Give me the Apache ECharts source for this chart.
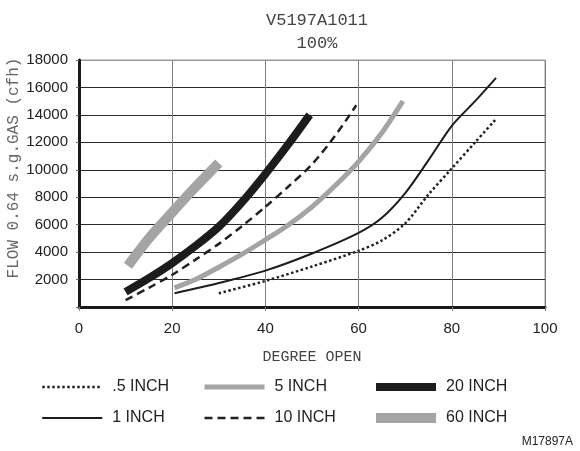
<!DOCTYPE html>
<html>
<head>
<meta charset="utf-8">
<script src="https://cdn.jsdelivr.net/npm/echarts@6/dist/echarts.min.js"></script>
<style>html,body{margin:0;padding:0;background:#fff}#c{width:580px;height:451px}</style>
</head>
<body>
<div id="c"></div>
<script>
const xTicks = [0, 20, 40, 60, 80, 100];
const yTicks = [2000, 4000, 6000, 8000, 10000, 12000, 14000, 16000, 18000];
const seriesNames = ['.5 INCH', '1 INCH', '5 INCH', '10 INCH', '20 INCH', '60 INCH'];
const halfInch = [[30,1000],[40,1900],[50,2950],[60,4100],[65,4850],[70,6100],[75,8200],[80,10100],[85,12000],[89.5,13700]];
const oneInch = [[20.5,1000],[30,1750],[40,2650],[50,3900],[60,5400],[65,6500],[70,8300],[75,10700],[80,13200],[85,15000],[89.5,16700]];
const fiveInch = [[20.5,1400],[25,2000],[30,2900],[35,3850],[40,4900],[45,6000],[50,7300],[55,8850],[60,10600],[65,12700],[69.5,15000]];
const tenInch = [[10,500],[15,1400],[20,2350],[25,3450],[30,4600],[35,5900],[40,7300],[45,8800],[50,10400],[55,12500],[59.5,14700]];
const twentyInch = [[10,1100],[15,2100],[20,3200],[25,4450],[30,5850],[35,7650],[40,9700],[45,11900],[49.5,14000]];
const sixtyInch = [[10.5,3000],[15,5000],[20,6900],[25,8750],[30,10500]];

const mono = "'Liberation Mono', 'DejaVu Sans Mono', monospace";
const sans = "'Liberation Sans', Arial, sans-serif";
const GRAY = '#a4a4a4';
const BLACK = '#1c1c1c';

const styles = {
  '.5 INCH': {color: '#222', width: 2.5, type: 'dotted'},
  '1 INCH': {color: BLACK, width: 2, type: 'solid'},
  '5 INCH': {color: GRAY, width: 5, type: 'solid'},
  '10 INCH': {color: '#222', width: 2.5, type: [8, 5]},
  '20 INCH': {color: BLACK, width: 8, type: 'solid'},
  '60 INCH': {color: GRAY, width: 10, type: 'solid'}
};
const dataMap = {
  '.5 INCH': halfInch, '1 INCH': oneInch, '5 INCH': fiveInch,
  '10 INCH': tenInch, '20 INCH': twentyInch, '60 INCH': sixtyInch
};

function mkLegend(names, left) {
  return {
    orient: 'vertical', left: left, top: 379, padding: 0,
    itemWidth: 60, itemHeight: 14, itemGap: 15,
    selectedMode: false,
    textStyle: {fontFamily: sans, fontSize: 16, color: '#222', padding: [0, 0, 0, 5]},
    data: names.map(n => ({
      name: n,
      itemStyle: {opacity: 0, borderWidth: 0},
      lineStyle: {width: styles[n].width, color: styles[n].color, type: styles[n].type}
    }))
  };
}

const chart = echarts.init(document.getElementById('c'), null, {renderer: 'canvas'});
const hColors = yTicks.map(() => '#2a2a2a');
hColors.unshift('#2a2a2a');
hColors[hColors.length - 1] = '#999';

chart.setOption({
  animation: false,
  title: {
    text: 'V5197A1011\n100%', left: 312, top: 4, textAlign: 'center',
    textStyle: {fontFamily: mono, fontSize: 17, fontWeight: 'normal', color: '#444', lineHeight: 23}
  },
  grid: {left: 79, right: 35, top: 60, bottom: 144, show: true, borderColor: '#999', borderWidth: 1},
  legend: [
    mkLegend(['.5 INCH', '1 INCH'], 41),
    mkLegend(['5 INCH', '10 INCH'], 202),
    mkLegend(['20 INCH', '60 INCH'], 371)
  ],
  xAxis: {
    type: 'value', min: 0, max: 100, interval: 20,
    name: 'DEGREE OPEN', nameLocation: 'middle', nameGap: 43,
    nameTextStyle: {fontFamily: mono, fontSize: 15, color: '#444'},
    axisLine: {show: true, onZero: false, lineStyle: {color: '#1a1a1a', width: 3}},
    axisTick: {show: true, length: 4, lineStyle: {color: '#888'}},
    axisLabel: {fontFamily: sans, fontSize: 15, color: '#222', margin: 14,
      formatter: v => xTicks.indexOf(v) >= 0 ? String(v) : ''},
    splitLine: {show: true, lineStyle: {color: '#808080', width: 1}}
  },
  yAxis: {
    type: 'value', min: 0, max: 18000, interval: 2000,
    axisLine: {show: true, onZero: false, lineStyle: {color: '#1a1a1a', width: 3}},
    axisTick: {show: true, length: 3, lineStyle: {color: '#666'}},
    axisLabel: {fontFamily: sans, fontSize: 15, color: '#222', margin: 11,
      formatter: v => yTicks.indexOf(v) >= 0 ? String(v) : ''},
    splitLine: {show: true, lineStyle: {color: hColors, width: 1}}
  },
  graphic: [
    {type: 'text', x: 14, y: 168, rotation: Math.PI / 2,
      style: {text: 'FLOW 0.64 s.g.GAS (cfh)', font: '16px ' + mono, fill: '#666',
        textAlign: 'center', textVerticalAlign: 'middle'}},
    {type: 'text', right: 7, top: 436,
      style: {text: 'M17897A', font: '12px ' + sans, fill: '#222'}}
  ],
  series: seriesNames.map(n => ({
    name: n, type: 'line', data: dataMap[n], smooth: 0.3, symbol: 'none',
    lineStyle: {color: styles[n].color, width: styles[n].width, type: styles[n].type},
    itemStyle: {color: styles[n].color},
    z: 3
  }))
});
</script>
</body>
</html>
